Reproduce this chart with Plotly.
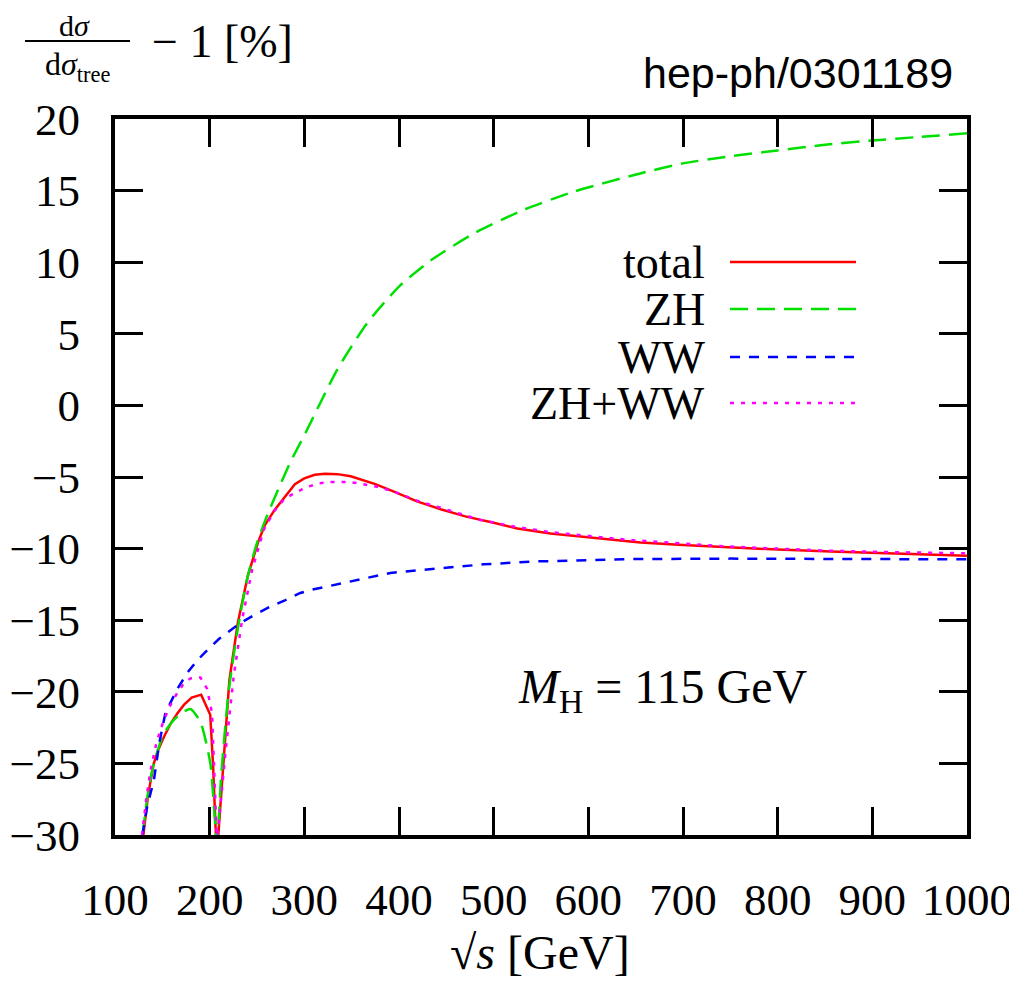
import plotly.graph_objects as go

# ---------------- data ----------------
total_s = [130, 135, 141, 146, 152, 159, 166, 173, 181, 191, 200.6, 203.5, 207.5,
           220.8, 229.7, 240.3, 250.9, 258, 268.6, 280, 290, 300, 311, 322, 335,
           349, 362, 375, 394, 419, 444, 470, 500, 525, 560, 613, 655, 700, 750,
           800, 856, 900, 950, 1000]
total_v = [-30, -27.2, -25.0, -24.0, -23.1, -22.2, -21.5, -20.9, -20.4, -20.2, -21.6, -25.0, -31.5,
           -19.2, -15.2, -11.9, -9.6, -8.4, -7.3, -6.3, -5.5, -5.1, -4.85, -4.78, -4.8,
           -4.95, -5.2, -5.5, -6.0, -6.7, -7.25, -7.75, -8.2, -8.6, -8.95, -9.3, -9.58, -9.75, -9.92,
           -10.07, -10.2, -10.3, -10.4, -10.5]

zh_s = [129, 135, 141, 151, 160.3, 170, 179.6, 190.2, 200.7, 207.7,
        212, 220, 230, 240, 250, 260, 272.9, 285, 302.9, 334.5, 366.2, 400,
        433, 478.8, 531.6, 584.4, 654.8, 700, 750, 800, 850, 900, 950, 1000]
zh_v = [-30, -27.0, -25.0, -23.0, -22.1, -21.5, -21.2, -22.1, -25.0, -30.5,
        -26.0, -20.0, -15.5, -12.0, -9.6, -7.8, -5.8, -4.0, -1.7, 2.47, 5.73, 8.3,
        10.1, 12.0, 13.65, 14.92, 16.2, 16.9, 17.4, 17.8, 18.2, 18.5, 18.75, 19.0]

ww_s = [129, 134, 141, 147, 153.2, 165, 176.1, 187, 197.3, 210, 220, 232.4, 248,
        264.1, 280, 295.8, 306, 341.5, 390.8, 440.1, 489.3, 542.1, 594.9, 647.7,
        750, 850, 1000]
ww_v = [-30, -28.0, -26.2, -23.5, -21.5, -19.9, -18.7, -17.8, -17.1, -16.3, -15.8, -15.2, -14.6,
        -14.05, -13.6, -13.1, -12.9, -12.4, -11.7, -11.4, -11.1, -10.9, -10.8, -10.73,
        -10.7, -10.7, -10.75]

sum_s = [128.5, 133, 137.4, 144, 151.4, 158, 165.6, 172, 179.6, 190.2, 197.3, 202.5, 207.7,
         216.6, 225.4, 234.2, 244.8, 257, 268, 278.1, 290, 302.9, 315, 327.5, 348.6,
         376.8, 394, 419, 444, 486, 525, 560, 613, 644, 700, 750, 800, 855, 900, 950, 1000]
sum_v = [-30, -27.5, -25.5, -23.5, -22.0, -21.0, -20.1, -19.5, -19.06, -19.0, -19.8, -21.5, -30.5,
         -24.3, -18.9, -15.0, -11.5, -8.7, -7.4, -6.6, -6.1, -5.7, -5.45, -5.35, -5.35,
         -5.68, -6.0, -6.65, -7.15, -8.0, -8.5, -8.85, -9.2, -9.4, -9.65, -9.86, -10.0, -10.15,
         -10.22, -10.28, -10.33]

x_ticks = [100, 200, 300, 400, 500, 600, 700, 800, 900, 1000]
y_ticks = [-30, -25, -20, -15, -10, -5, 0, 5, 10, 15, 20]

series_names = ["total", "ZH", "WW", "ZH+WW"]
series_colors = ["#ff0000", "#00e000", "#0000ff", "#ff00ff"]
series_dash = ["solid", "18px,9px", "10px,9px", "4px,7px"]
series_shape = ["linear", "spline", "linear", "linear"]

# ---------------- figure ----------------
OFF = 8                       # page body margin of the html page
W, H = 1017 - OFF, 981 - OFF
PL, PR, PT, PB = 115, 967, 119, 835   # plot area in screen pixels
L, R, T, B = PL - OFF, (W + OFF) - PR, PT - OFF, (H + OFF) - PB
pw, ph = PR - PL, PB - PT


def px(x):
    return (x - PL) / pw


def py(y):
    return (PB - y) / ph


SERIF = "Liberation Serif, Times New Roman, serif"

fig = go.Figure()
data = [(total_s, total_v), (zh_s, zh_v), (ww_s, ww_v), (sum_s, sum_v)]
for (xs, ys), name, col, dash, shp in zip(data, series_names, series_colors,
                                           series_dash, series_shape):
    line = dict(color=col, width=2.5, dash=dash, shape=shp)
    if shp == "spline":
        line["smoothing"] = 0.6
    fig.add_trace(go.Scatter(x=xs, y=ys, mode="lines", name=name,
                             line=line, showlegend=False))

axis_common = dict(showline=True, linewidth=4, linecolor="black", mirror="ticks",
                   ticks="inside", ticklen=28, tickwidth=3, tickcolor="black",
                   showgrid=False, zeroline=False, automargin=False,
                   tickfont=dict(family=SERIF, size=45, color="black"))

fig.update_xaxes(range=[100, 1000], tickvals=x_ticks, ticklabelstandoff=22, **axis_common)
fig.update_yaxes(range=[-30, 20], tickvals=y_ticks, ticklabelstandoff=22, **axis_common)

annotations = []
shapes = []

# legend (text left, line sample right)
leg_y = [262, 309, 357, 403]
for name, col, dash, yy in zip(series_names, series_colors, series_dash, leg_y):
    annotations.append(dict(x=px(707), y=py(yy), xref="paper", yref="paper",
                            text=name, showarrow=False, xanchor="right", yanchor="middle",
                            font=dict(family=SERIF, size=46, color="black")))
    shapes.append(dict(type="line", xref="paper", yref="paper",
                       x0=px(730), x1=px(856), y0=py(yy), y1=py(yy),
                       line=dict(color=col, width=2.5, dash=dash)))

# M_H label
annotations.append(dict(x=px(662), y=py(690), xref="paper", yref="paper",
                        text="<i>M</i><sub>H</sub> = 115 GeV", showarrow=False,
                        xanchor="center", yanchor="middle",
                        font=dict(family=SERIF, size=48, color="black")))

# hep-ph tag
annotations.append(dict(x=px(955), y=py(73), xref="paper", yref="paper",
                        text="hep-ph/0301189", showarrow=False,
                        xanchor="right", yanchor="middle",
                        font=dict(family="Liberation Sans, Arial, sans-serif", size=43, color="black")))

# y-axis title (fraction)
annotations.append(dict(x=px(74), y=py(26), xref="paper", yref="paper",
                        text="d<i>σ</i>", showarrow=False, xanchor="center", yanchor="middle",
                        font=dict(family=SERIF, size=30, color="black")))
annotations.append(dict(x=px(77), y=py(44), xref="paper", yref="paper",
                        text="d<i>σ</i><sub>tree</sub>", showarrow=False, xanchor="center",
                        yanchor="top",
                        font=dict(family=SERIF, size=32, color="black")))
shapes.append(dict(type="line", xref="paper", yref="paper",
                   x0=px(25), x1=px(130), y0=py(41), y1=py(41),
                   line=dict(color="black", width=2)))
annotations.append(dict(x=px(150), y=py(42), xref="paper", yref="paper",
                        text="− 1 [%]", showarrow=False, xanchor="left", yanchor="middle",
                        font=dict(family=SERIF, size=46, color="black")))

# x-axis title
annotations.append(dict(x=px(540), y=py(952), xref="paper", yref="paper",
                        text="√<i>s</i> [GeV]", showarrow=False, xanchor="center", yanchor="middle",
                        font=dict(family=SERIF, size=48, color="black")))

fig.update_layout(width=W, height=H, margin=dict(l=L, r=R, t=T, b=B),
                  paper_bgcolor="white", plot_bgcolor="white",
                  annotations=annotations, shapes=shapes, showlegend=False)

fig.write_html("out.html")
